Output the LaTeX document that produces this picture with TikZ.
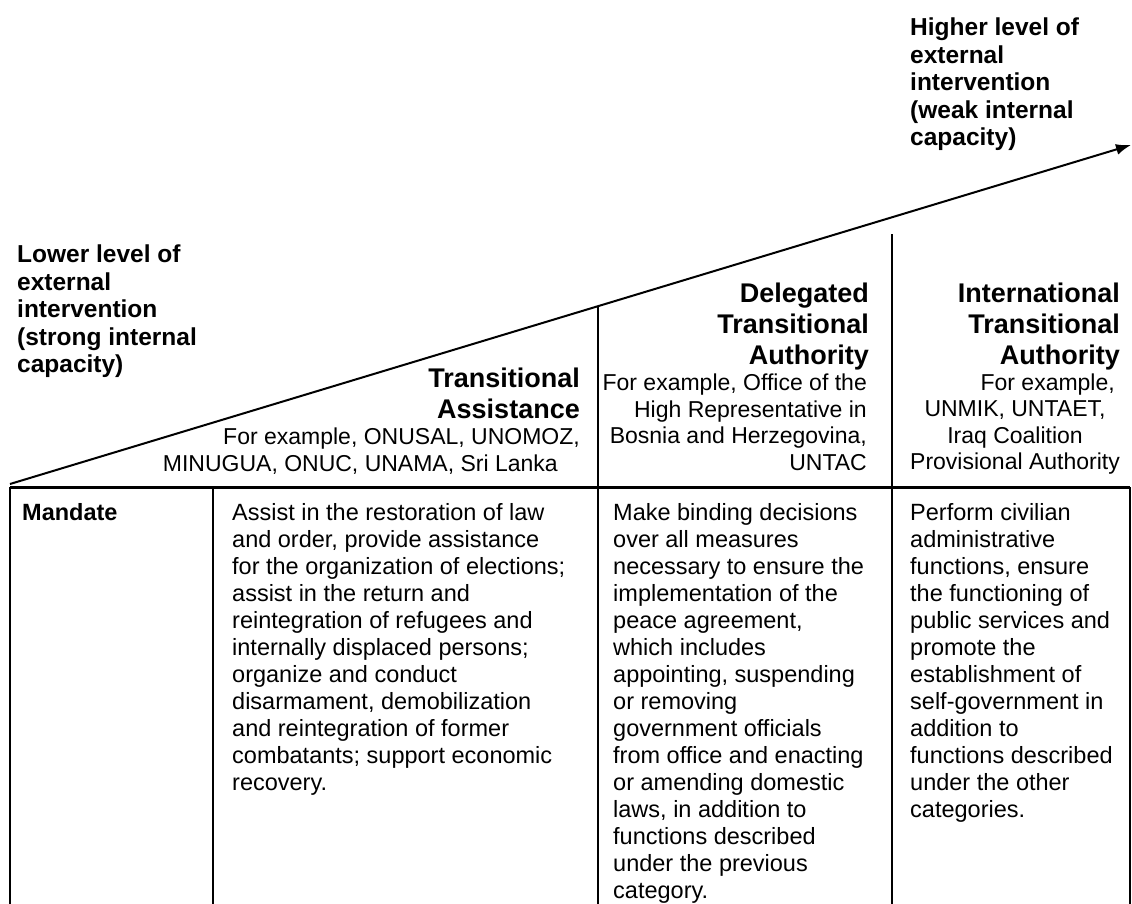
\documentclass[tikz,border=0pt]{standalone}
\usepackage{fontspec}
\setmainfont{Liberation Sans}
\usetikzlibrary{arrows.meta}
\begin{document}
\begin{tikzpicture}[x=1pt,y=-1pt,
  rule/.style={line width=2pt,black},
  lbl/.style={font=\fontsize{24.5}{27.5}\selectfont\bfseries,align=left,inner sep=0pt,anchor=north west},
  head/.style={font=\fontsize{27}{31}\selectfont\bfseries,align=right,inner sep=0pt,anchor=north east},
  ex/.style={font=\fontsize{23}{26.5}\selectfont,inner sep=0pt},
  body/.style={font=\fontsize{23.5}{27}\selectfont,align=left,inner sep=0pt,anchor=north west},
]
\useasboundingbox (0,0) rectangle (1132,904);

% rising arrow of external intervention
\coordinate (dstart) at (10,484);
\coordinate (dend) at (1131,145);
\draw[rule,-{Latex[length=15pt,width=11pt]}] (dstart) -- (dend);

% table frame
\coordinate (tl) at (10,487);
\coordinate (tr) at (1130,487);
\coordinate (bl) at (10,904);
\coordinate (br) at (1130,904);
\draw[rule,line width=3pt] (tl) -- (tr);
\draw[rule] (tl) -- (bl);
\draw[rule] (tr) -- (br);

% column separators
\coordinate (s1t) at (213,487);  \coordinate (s1b) at (213,904);
\coordinate (s2t) at (598,306);  \coordinate (s2b) at (598,904);
\coordinate (s3t) at (892,234);  \coordinate (s3b) at (892,904);
\draw[rule] (s1t) -- (s1b);
\draw[rule] (s2t) -- (s2b);
\draw[rule] (s3t) -- (s3b);

% end labels
\node[lbl] (lowlbl) at (17,245) {Lower level of\\external\\intervention\\(strong internal\\capacity)};
\node[lbl] (highlbl) at (910,18) {Higher level of\\external\\intervention\\(weak internal\\capacity)};

% category headings
\node[head] (tahead) at (580,368) {Transitional\\Assistance};
\node[ex,anchor=base east] (taex1) at (580,444.5) {For example, ONUSAL, UNOMOZ,};
\node[ex,anchor=base east] (taex2) at (558,471) {MINUGUA, ONUC, UNAMA, Sri Lanka};

\node[head] (dthead) at (869,283) {Delegated\\Transitional\\Authority};
\node[ex,align=right,anchor=north east] (dtex) at (867,374) {For example, Office of the\\High Representative in\\Bosnia and Herzegovina,\\UNTAC};

\node[head] (ithead) at (1120,283) {International\\Transitional\\Authority};
\node[ex,anchor=base east] (itex1) at (1115,390.5) {For example,};
\node[ex,align=center,anchor=north] (itex2) at (1015,400.5) {UNMIK, UNTAET,\\Iraq Coalition\\Provisional Authority};

% mandate row
\node[body,font=\fontsize{23.5}{27}\selectfont\bfseries] (mand) at (22,503) {Mandate};
\node[body] (c2) at (232,503) {Assist in the restoration of law\\and order, provide assistance\\for the organization of elections;\\assist in the return and\\reintegration of refugees and\\internally displaced persons;\\organize and conduct\\disarmament, demobilization\\and reintegration of former\\combatants; support economic\\recovery.};
\node[body] (c3) at (613,503) {Make binding decisions\\over all measures\\necessary to ensure the\\implementation of the\\peace agreement,\\which includes\\appointing, suspending\\or removing\\government officials\\from office and enacting\\or amending domestic\\laws, in addition to\\functions described\\under the previous\\category.};
\node[body] (c4) at (910,503) {Perform civilian\\administrative\\functions, ensure\\the functioning of\\public services and\\promote the\\establishment of\\self-government in\\addition to\\functions described\\under the other\\categories.};
\end{tikzpicture}
\end{document}
